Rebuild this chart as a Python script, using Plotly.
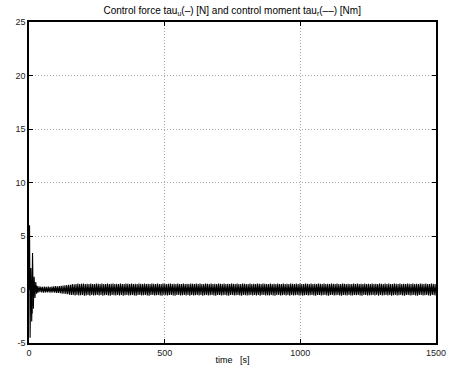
import numpy as np
import plotly.graph_objects as go

# transient part of tau_u (time in s, value in N)
t_start = [0, 2, 4, 7, 10, 13, 16, 19, 22, 25, 28]
u_start = [0.0, 6.0, -4.5, 2.0, -3.0, 3.4, -1.8, 1.2, -0.8, 0.7, -0.4]

# steady oscillation of tau_u, read as alternating peaks / troughs from t=30 to 1500 s
u_osc = [
    0.35, -0.3, 0.3, -0.25, 0.28, -0.27, 0.25, -0.3, 0.27, -0.28, 0.26, -0.27,
    0.28, -0.27, 0.26, -0.3, 0.28, -0.27, 0.3, -0.3, 0.32, -0.33, 0.3, -0.32,
    0.32, -0.35, 0.35, -0.38, 0.36, -0.4, 0.4, -0.42, 0.42, -0.45, 0.44, -0.48,
    0.45, -0.5, 0.5, -0.52, 0.48, -0.55, 0.52, -0.5, 0.55, -0.56, 0.5, -0.54,
    0.53, -0.5, 0.56, -0.58, 0.5, -0.55, 0.54, -0.52, 0.5, -0.57, 0.55, -0.5,
    0.52, -0.55, 0.5, -0.53, 0.56, -0.5, 0.54, -0.56, 0.5, -0.52, 0.55, -0.58,
    0.5, -0.54, 0.52, -0.5, 0.56, -0.55, 0.5, -0.57, 0.53, -0.5, 0.55, -0.54,
    0.51, -0.56, 0.54, -0.52, 0.5, -0.55, 0.56, -0.5, 0.52, -0.58, 0.5, -0.53,
    0.55, -0.5, 0.53, -0.56, 0.5, -0.54, 0.56, -0.52, 0.5, -0.55, 0.54, -0.57,
    0.5, -0.52, 0.55, -0.5, 0.53, -0.56, 0.51, -0.54, 0.56, -0.5, 0.52, -0.55,
    0.54, -0.58, 0.5, -0.52, 0.55, -0.5, 0.53, -0.56, 0.5, -0.54, 0.56, -0.52,
    0.5, -0.55, 0.52, -0.57, 0.55, -0.5, 0.53, -0.54, 0.5, -0.56, 0.54, -0.52,
    0.56, -0.5, 0.5, -0.55, 0.53, -0.58, 0.5, -0.52, 0.55, -0.5, 0.52, -0.56,
    0.5, -0.54, 0.56, -0.52, 0.5, -0.55, 0.54, -0.5, 0.52, -0.57, 0.55, -0.5,
    0.53, -0.56, 0.5, -0.54, 0.55, -0.52, 0.5, -0.55, 0.56, -0.5, 0.52, -0.58,
    0.5, -0.53, 0.55, -0.5, 0.53, -0.56, 0.5, -0.54, 0.56, -0.52, 0.5, -0.55,
    0.54, -0.57, 0.5, -0.52, 0.55, -0.5, 0.53, -0.56, 0.51, -0.54, 0.56, -0.5,
    0.52, -0.55, 0.54, -0.58, 0.5, -0.52, 0.55, -0.5, 0.53, -0.56, 0.5, -0.54,
    0.56, -0.52, 0.5, -0.55, 0.52, -0.57, 0.55, -0.5, 0.53, -0.54, 0.5, -0.56,
    0.5, -0.53, 0.55, -0.5, 0.52, -0.56, 0.54, -0.52, 0.5, -0.55, 0.56, -0.5,
    0.53, -0.57, 0.5, -0.52, 0.55, -0.5, 0.54, -0.56, 0.5, -0.54, 0.52, -0.55,
    0.56, -0.5, 0.5, -0.55, 0.53, -0.58, 0.5, -0.52, 0.55, -0.5, 0.52, -0.56,
    0.5, -0.54, 0.56, -0.52, 0.5, -0.55, 0.54, -0.5, 0.52, -0.57, 0.55, -0.5,
    0.53, -0.56, 0.5, -0.54, 0.55, -0.52, 0.5, -0.55, 0.56, -0.5, 0.52, -0.58,
    0.5, -0.53, 0.55, -0.5, 0.53, -0.56, 0.5, -0.54, 0.56, -0.52, 0.5, -0.55,
    0.54, -0.57, 0.5, -0.52, 0.55, -0.5, 0.53, -0.56, 0.51, -0.54, 0.56, -0.5,
    0.52, -0.55, 0.54, -0.58, 0.5, -0.52, 0.55, -0.5, 0.53, -0.56, 0.5, -0.54,
    0.56, -0.52, 0.5, -0.55, 0.52, -0.57, 0.55, -0.5, 0.53, -0.54, 0.5, -0.56,
    0.54, -0.5, 0.52, -0.56, 0.5, -0.55, 0.55, -0.52, 0.5, -0.54, 0.56, -0.5,
    0.5, -0.55, 0.53, -0.58, 0.5, -0.52, 0.55, -0.5, 0.52, -0.56, 0.54, -0.53,
    0.5, -0.54, 0.56, -0.52, 0.5, -0.55, 0.54, -0.5, 0.52, -0.57, 0.55, -0.5,
    0.53, -0.56, 0.5, -0.54, 0.55, -0.52, 0.5, -0.55, 0.56, -0.5, 0.52, -0.58,
    0.5, -0.53, 0.55, -0.5, 0.53, -0.56, 0.5, -0.54, 0.56, -0.52, 0.5, -0.55,
    0.54, -0.57, 0.5, -0.52, 0.55, -0.5, 0.53, -0.56, 0.51, -0.54, 0.56, -0.5,
    0.52, -0.55, 0.54, -0.58, 0.5, -0.52, 0.55, -0.5, 0.53, -0.56, 0.5, -0.54,
    0.56, -0.52, 0.5, -0.55, 0.52, -0.57, 0.55, -0.5, 0.53, -0.54, 0.5, -0.56,
]
osc_t0, osc_t1 = 30, 1500

# tau_r (dashed), mostly hidden near zero
t_r = [0, 3, 6, 9, 12, 15, 18, 21, 25, 30, 60, 200, 500, 1000, 1500]
r_val = [0.0, 1.5, -1.2, 0.8, -2.3, -1.3, 0.5, -0.4, 0.2, 0.1, 0.05, 0.0, 0.0, 0.0, 0.0]

x_ticks = [0, 500, 1000, 1500]
y_ticks = [-5, 0, 5, 10, 15, 20, 25]

t_osc = np.linspace(osc_t0, osc_t1, len(u_osc))
t_u = list(t_start) + list(t_osc)
u = list(u_start) + list(u_osc)

fig = go.Figure()
fig.add_trace(go.Scatter(x=t_r, y=r_val, mode="lines",
                         line=dict(color="black", width=1, dash="dash"), showlegend=False))
fig.add_trace(go.Scatter(x=t_u, y=u, mode="lines",
                         line=dict(color="black", width=1.1), showlegend=False))

axis_common = dict(showline=True, linecolor="black", linewidth=1.5, mirror="ticks",
                   ticks="inside", ticklen=4, tickcolor="black", tickwidth=1,
                   showgrid=True, gridcolor="#a8a8a8", griddash="1px,2px", gridwidth=1,
                   zeroline=False, automargin=False,
                   tickfont=dict(family="Liberation Sans, Arial", size=9, color="#222"))

fig.update_layout(
    width=450, height=366,
    margin=dict(l=29, r=14, t=22, b=23),
    paper_bgcolor="white", plot_bgcolor="white",
    title=dict(text="Control force tau<sub>u</sub>(–) [N] and control moment tau<sub>r</sub>(––) [Nm]",
               x=0.516, xanchor="center", y=0.972, yanchor="middle",
               font=dict(family="Liberation Sans, Arial", size=10, color="black")),
    xaxis=dict(range=[0, 1500], tickvals=x_ticks, ticktext=[str(v) for v in x_ticks],
               title=dict(text="time&nbsp;&nbsp;&nbsp;[s]", standoff=0,
                          font=dict(family="Liberation Sans, Arial", size=9, color="black")),
               **axis_common),
    yaxis=dict(range=[-5, 25], tickvals=y_ticks, ticktext=[str(v) for v in y_ticks], **axis_common),
)

fig.write_html("out.html", config={"displayModeBar": False},
               post_script="document.body.style.margin='0';")
